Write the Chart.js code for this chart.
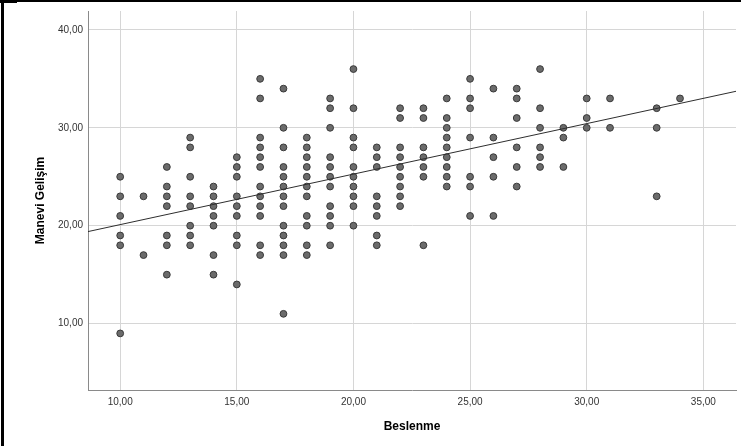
<!DOCTYPE html>
<html>
<head>
<meta charset="utf-8">
<script src="https://cdn.jsdelivr.net/npm/chart.js@4"></script>
<style>
  html, body { margin: 0; padding: 0; background: #fff; }
  canvas { display: block; }
</style>
</head>
<body>
<canvas id="chartScatter" width="741" height="446"></canvas>
<script>
(function () {
    'use strict';

    /* ── Datos ──────────────────────────────────────────── */
    var beslenme = [10, 11, 12, 13, 14, 15, 16, 17, 18, 19, 20, 21,
                    22, 23, 24, 25, 26, 27, 28, 29, 30, 31, 33, 34];

    var maneviGelisim = [
        [25, 23, 21, 19, 18, 9],
        [23, 17],
        [26, 24, 23, 22, 19, 18, 15],
        [29, 28, 25, 23, 22, 20, 19, 18],
        [24, 23, 22, 21, 20, 17, 15],
        [27, 26, 25, 23, 22, 21, 19, 18, 14],
        [35, 33, 29, 28, 27, 26, 24, 23, 22, 21, 18, 17],
        [34, 30, 28, 26, 25, 24, 23, 22, 20, 19, 18, 17, 11],
        [29, 28, 27, 26, 25, 24, 23, 21, 20, 18, 17],
        [33, 32, 30, 27, 26, 25, 24, 22, 21, 20, 18],
        [36, 32, 29, 28, 26, 25, 24, 23, 22, 20],
        [28, 27, 26, 23, 22, 21, 19, 18],
        [32, 31, 28, 27, 26, 25, 24, 23, 22],
        [32, 31, 28, 27, 26, 25, 18],
        [33, 31, 30, 29, 28, 27, 26, 25, 24],
        [35, 33, 32, 29, 25, 24, 21],
        [34, 29, 27, 25, 21],
        [34, 33, 31, 28, 26, 24],
        [36, 32, 30, 28, 27, 26],
        [30, 29, 26],
        [33, 31, 30],
        [33, 30],
        [32, 30, 23],
        [33]
    ];

    var fitX = [8.62, 36.40];
    var fitY = [19.40, 33.73];

    var xTicks = [10, 15, 20, 25, 30, 35];
    var yTicks = [10, 20, 30, 40];

    /* ── Estilos ─────────────────────────────────────────── */
    var FONT   = '"Liberation Sans", Arial, sans-serif';
    var GRID   = '#d6d6d6';
    var AXIS   = '#8a8a8a';
    var DOT    = '#6b6b6b';
    var DOT_BD = '#3a3a3a';

    function fmt(v) {
        return v.toFixed(2).replace('.', ',');
    }

    var points = [];
    beslenme.forEach(function (x, i) {
        maneviGelisim[i].forEach(function (y) {
            points.push({ x: x, y: y });
        });
    });

    var fitLine = fitX.map(function (x, i) { return { x: x, y: fitY[i] }; });

    // Marco negro superior e izquierdo
    var framePlugin = {
        id: 'frame',
        afterDraw: function (chart) {
            var c = chart.ctx;
            c.save();
            c.fillStyle = '#000';
            c.fillRect(0, 0, chart.width, 2);
            c.fillRect(1, 0, 3, chart.height);
            c.fillRect(0, 0, 17, 3);
            c.restore();
        }
    };

    var bgPlugin = {
        id: 'bg',
        beforeDraw: function (chart) {
            var c = chart.ctx;
            c.save();
            c.fillStyle = '#fff';
            c.fillRect(0, 0, chart.width, chart.height);
            c.restore();
        }
    };

    new Chart(document.getElementById('chartScatter'), {
        type: 'scatter',
        data: {
            datasets: [
                {
                    type:            'line',
                    data:            fitLine,
                    borderColor:     '#2e2e2e',
                    borderWidth:     1,
                    pointRadius:     0,
                    fill:            false,
                    order:           0
                },
                {
                    data:            points,
                    backgroundColor: DOT,
                    borderColor:     DOT_BD,
                    borderWidth:     1,
                    pointRadius:     3.4,
                    order:           1
                }
            ]
        },
        options: {
            responsive: false,
            animation: false,
            devicePixelRatio: 1,
            layout: { padding: { top: 8, right: 3, left: 0, bottom: 0 } },
            plugins: {
                legend:  { display: false },
                tooltip: { enabled: false }
            },
            scales: {
                x: {
                    type: 'linear',
                    min: fitX[0],
                    max: fitX[1],
                    afterBuildTicks: function (s) {
                        s.ticks = xTicks.map(function (v) { return { value: v }; });
                    },
                    afterFit: function (s) { s.height = 56; },
                    grid:   { color: GRID, drawTicks: false },
                    border: { color: AXIS, width: 1 },
                    ticks: {
                        autoSkip: false,
                        maxRotation: 0,
                        padding: 6,
                        color: '#333',
                        font: { family: FONT, size: 10 },
                        callback: function (v) { return fmt(v); }
                    },
                    title: {
                        display: true,
                        text: 'Beslenme',
                        color: '#000',
                        font: { family: FONT, size: 12, weight: 'bold' },
                        padding: { top: 0, bottom: 12 }
                    }
                },
                y: {
                    type: 'linear',
                    min: 3.22,
                    max: 41.93,
                    afterBuildTicks: function (s) {
                        s.ticks = yTicks.map(function (v) { return { value: v }; });
                    },
                    afterFit: function (s) { s.width = 88; },
                    grid:   { color: GRID, drawTicks: false },
                    border: { color: AXIS, width: 1 },
                    ticks: {
                        autoSkip: false,
                        padding: 5,
                        color: '#333',
                        font: { family: FONT, size: 10 },
                        callback: function (v) { return fmt(v); }
                    },
                    title: {
                        display: true,
                        text: 'Manevi Gelişim',
                        color: '#000',
                        font: { family: FONT, size: 12, weight: 'bold' },
                        padding: { top: 33, bottom: 0 }
                    }
                }
            }
        },
        plugins: [bgPlugin, framePlugin]
    });
})();
</script>
</body>
</html>
